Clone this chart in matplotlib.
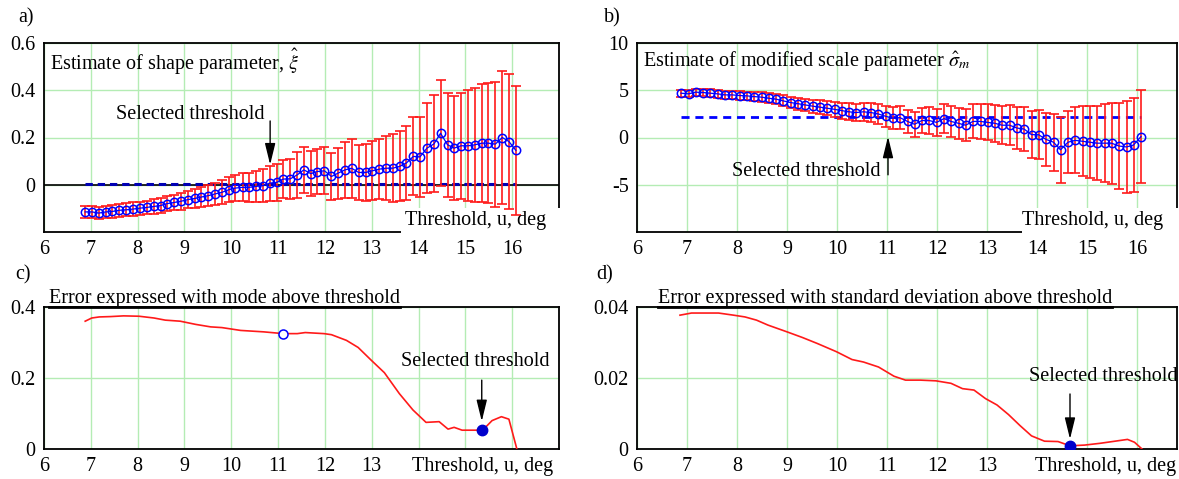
import matplotlib
matplotlib.use("Agg")
import matplotlib.pyplot as plt
from matplotlib.patches import Rectangle
from matplotlib.transforms import offset_copy

plt.rcParams["font.family"] = ["Liberation Serif", "DejaVu Serif"]
plt.rcParams["mathtext.fontset"] = "stix"
plt.rcParams["font.size"] = 14.5

RED = "#ff1a1a"
BLUE = "#0000ff"
DARKBLUE = "#0000b4"
GRID = "#b4ecb4"

# thresholds used for the parameter estimates (deg)
threshold = [6.88, 7.03, 7.17, 7.32, 7.46, 7.61, 7.76, 7.90, 8.05, 8.19,
             8.34, 8.49, 8.63, 8.78, 8.92, 9.07, 9.22, 9.36, 9.51, 9.65,
             9.80, 9.95, 10.09, 10.24, 10.38, 10.53, 10.68, 10.82, 10.97, 11.11,
             11.26, 11.41, 11.55, 11.70, 11.84, 11.99, 12.14, 12.28, 12.43, 12.57,
             12.72, 12.87, 13.01, 13.16, 13.30, 13.45, 13.60, 13.74, 13.89, 14.03,
             14.18, 14.33, 14.47, 14.62, 14.76, 14.91, 15.06, 15.20, 15.35, 15.49,
             15.64, 15.79, 15.93, 16.08]

# a) shape parameter estimate and its error bar half-width
xi_hat = [-0.115, -0.115, -0.120, -0.115, -0.113, -0.108, -0.106, -0.103, -0.099, -0.096,
          -0.092, -0.088, -0.080, -0.075, -0.070, -0.063, -0.058, -0.052, -0.046, -0.039,
          -0.032, -0.021, -0.014, -0.011, -0.011, -0.007, -0.004, 0.007, 0.010, 0.024,
          0.025, 0.042, 0.063, 0.047, 0.056, 0.059, 0.035, 0.049, 0.063, 0.070,
          0.052, 0.052, 0.059, 0.066, 0.070, 0.070, 0.078, 0.092, 0.120, 0.118,
          0.155, 0.173, 0.218, 0.169, 0.155, 0.165, 0.165, 0.169, 0.176, 0.176,
          0.172, 0.200, 0.183, 0.145]
xi_err = [0.026, 0.026, 0.026, 0.026, 0.027, 0.027, 0.027, 0.028, 0.028, 0.029,
          0.030, 0.031, 0.032, 0.033, 0.035, 0.037, 0.039, 0.041, 0.044, 0.047,
          0.050, 0.053, 0.056, 0.059, 0.062, 0.066, 0.070, 0.074, 0.078, 0.082,
          0.086, 0.097, 0.097, 0.095, 0.095, 0.100, 0.100, 0.108, 0.120, 0.125,
          0.118, 0.120, 0.125, 0.127, 0.135, 0.145, 0.148, 0.155, 0.165, 0.168,
          0.190, 0.205, 0.224, 0.220, 0.220, 0.225, 0.235, 0.240, 0.250, 0.255,
          0.265, 0.280, 0.285, 0.275]
xi_ref = 0.005

# b) modified scale parameter estimate and its error bar half-width
sigma_hat = [4.69, 4.62, 4.80, 4.76, 4.69, 4.62, 4.51, 4.51, 4.44, 4.41,
             4.33, 4.27, 4.16, 4.06, 3.88, 3.70, 3.58, 3.45, 3.32, 3.22,
             3.10, 2.98, 2.85, 2.72, 2.64, 2.72, 2.64, 2.50, 2.25, 2.05,
             2.10, 1.70, 1.40, 1.80, 1.80, 1.60, 2.00, 1.70, 1.50, 1.30,
             1.70, 1.70, 1.60, 1.50, 1.30, 1.30, 1.00, 0.90, 0.30, 0.30,
             -0.20, -0.50, -1.30, -0.50, -0.30, -0.40, -0.50, -0.60, -0.60, -0.60,
             -0.90, -1.00, -0.80, 0.10]
sigma_err = [0.38, 0.38, 0.38, 0.38, 0.40, 0.40, 0.42, 0.42, 0.45, 0.45,
             0.48, 0.50, 0.52, 0.55, 0.58, 0.60, 0.62, 0.65, 0.68, 0.70,
             0.75, 0.80, 0.85, 0.88, 0.90, 0.95, 1.00, 1.05, 1.10, 1.15,
             1.20, 1.25, 1.30, 1.35, 1.40, 1.45, 1.55, 1.60, 1.65, 1.70,
             1.80, 1.85, 1.90, 1.95, 2.00, 2.10, 2.20, 2.30, 2.50, 2.60,
             2.80, 3.00, 3.50, 3.30, 3.50, 3.70, 3.80, 3.90, 4.10, 4.30,
             4.50, 4.90, 5.00, 4.90]
sigma_ref = 2.15

# c) error expressed with mode above threshold
mode_u = [6.88, 7.02, 7.18, 7.42, 7.70, 8.03, 8.35, 8.59, 8.91, 9.24,
          9.56, 9.80, 10.20, 10.69, 11.11, 11.41, 11.58, 11.98, 12.14, 12.46,
          12.71, 12.99, 13.27, 13.59, 13.88, 14.16, 14.44, 14.63, 14.76, 14.93,
          15.13, 15.37, 15.57, 15.77, 15.93, 16.10]
mode_err = [0.360, 0.369, 0.372, 0.373, 0.375, 0.374, 0.369, 0.363, 0.360, 0.351,
            0.344, 0.342, 0.334, 0.330, 0.325, 0.325, 0.328, 0.325, 0.322, 0.306,
            0.286, 0.250, 0.215, 0.156, 0.110, 0.075, 0.077, 0.056, 0.061, 0.053,
            0.053, 0.053, 0.080, 0.091, 0.084, 0.0]
mode_open = (11.11, 0.325)
mode_sel = (15.35, 0.053)

# d) error expressed with standard deviation above threshold
std_u = [6.86, 7.09, 7.32, 7.63, 7.93, 8.16, 8.39, 8.62, 9.00, 9.31,
         9.61, 9.99, 10.30, 10.53, 10.83, 11.14, 11.37, 11.67, 11.98, 12.28,
         12.51, 12.74, 12.97, 13.20, 13.43, 13.66, 13.89, 14.15, 14.42, 14.66,
         14.95, 15.26, 15.56, 15.81, 15.95, 16.10]
std_err = [0.0377, 0.0383, 0.0383, 0.0383, 0.0377, 0.0372, 0.0363, 0.0349, 0.0330, 0.0314,
           0.0297, 0.0274, 0.0252, 0.0245, 0.0231, 0.0205, 0.0194, 0.0194, 0.0192, 0.0185,
           0.0170, 0.0166, 0.0142, 0.0124, 0.0097, 0.0066, 0.0037, 0.0022, 0.0021, 0.0009,
           0.0011, 0.0016, 0.0022, 0.0027, 0.0019, 0.0]
std_sel = (14.66, 0.0009)

W, H = 1179, 479
fig = plt.figure(figsize=(W / 100, H / 100), dpi=100)


def px_axes(l, t, r, b):
    return fig.add_axes([l / W, 1 - b / H, (r - l) / W, (b - t) / H])


def style(ax, xlim, ylim, yticks, ylabels, last_xlabel):
    ax.set_xlim(*xlim)
    ax.set_ylim(*ylim)
    ax.set_xticks(range(6, 17))
    ax.set_xticklabels([str(v) if v <= last_xlabel else "" for v in range(6, 17)])
    ax.set_yticks(yticks)
    ax.set_yticklabels(ylabels)
    ax.tick_params(length=0, pad=6)
    ax.grid(True, color=GRID, lw=1)
    ax.set_axisbelow(True)
    for s in ax.spines.values():
        s.set_linewidth(1.3)


def arrow(ax, x, y_from, y_to):
    ax.annotate("", xy=(x, y_to), xytext=(x, y_from),
                arrowprops=dict(arrowstyle="-|>,head_length=0.9,head_width=0.22",
                                color="k", lw=1.0, shrinkA=0, shrinkB=0))


def corner_label(ax, box_left):
    ax.add_patch(Rectangle((box_left, -0.01), 1.01 - box_left, 0.137, transform=ax.transAxes,
                           facecolor="white", edgecolor="none", zorder=2.6, clip_on=False))
    ax.text(0.975, 0.063, "Threshold, u, deg", transform=ax.transAxes,
            ha="right", va="center", zorder=5)


def under_title(ax, text, x0):
    tr = offset_copy(ax.transAxes, fig=fig, y=4, units="dots")
    t = ax.text(x0, 1.0, text, transform=tr, ha="left", va="baseline")
    fig.canvas.draw()
    bb = t.get_window_extent().transformed(ax.transAxes.inverted())
    ax.plot([x0, bb.x1], [1.0, 1.0], transform=ax.transAxes, color="k",
            lw=2.0, clip_on=False, zorder=6)


# a)
ax = px_axes(44, 43, 559, 232)
style(ax, (6, 17), (-0.2, 0.6), [0, 0.2, 0.4, 0.6], ["0", "0.2", "0.4", "0.6"], 16)
ax.axhline(0, color="k", lw=1.2, zorder=2)
ax.plot([threshold[0], threshold[-1]], [xi_ref, xi_ref], color=DARKBLUE, lw=2.2,
        dashes=(2.4, 1.6), zorder=2.2)
ax.errorbar(threshold, xi_hat, yerr=xi_err, fmt="none", ecolor=RED, elinewidth=1.2,
            capsize=3.5, capthick=1.2, zorder=3)
ax.plot(threshold, xi_hat, "-o", color=BLUE, lw=0.9, mfc="none", mec=BLUE, ms=6, mew=1.1, zorder=4)
ax.text(0.012, 0.9, r"Estimate of shape parameter, $\hat{\xi}$", transform=ax.transAxes,
        ha="left", va="center")
ax.text(10.72, 0.296, "Selected threshold", ha="right", va="center")
arrow(ax, 10.83, 0.27, 0.085)
corner_label(ax, 0.693)
fig.text(18 / W, 1 - 18 / H, "a)", ha="left", va="center")

# b)
ax = px_axes(637, 43, 1177, 232)
style(ax, (6, 16.8), (-10, 10), [-5, 0, 5, 10], ["-5", "0", "5", "10"], 16)
ax.plot([threshold[0], threshold[-1]], [sigma_ref, sigma_ref], color=BLUE, lw=2.0,
        dashes=(2.9, 2.1), zorder=2.2)
ax.errorbar(threshold, sigma_hat, yerr=sigma_err, fmt="none", ecolor=RED, elinewidth=1.2,
            capsize=3.5, capthick=1.2, zorder=3)
ax.plot(threshold, sigma_hat, "-o", color=BLUE, lw=0.9, mfc="none", mec=BLUE, ms=6, mew=1.1, zorder=4)
ax.text(0.012, 0.9, r"Estimate of modified scale parameter $\hat{\sigma}_m$",
        transform=ax.transAxes, ha="left", va="center")
ax.text(10.86, -3.6, "Selected threshold", ha="right", va="center")
arrow(ax, 11.02, -3.95, 0.1)
corner_label(ax, 0.713)
fig.text(604 / W, 1 - 18 / H, "b)", ha="left", va="center")

# c)
ax = px_axes(44, 307, 559, 449)
style(ax, (6, 17), (0, 0.4), [0, 0.2, 0.4], ["0", "0.2", "0.4"], 13)
ax.plot(mode_u, mode_err, color=RED, lw=1.2, zorder=3)
ax.plot(*mode_open, "o", mfc="white", mec=BLUE, ms=6.5, mew=1.1, zorder=4)
ax.plot(*mode_sel, "o", color="#0000cc", ms=7.5, zorder=4)
ax.text(15.22, 0.247, "Selected threshold", ha="center", va="center")
arrow(ax, mode_sel[0], 0.194, 0.078)
ax.text(0.988, -0.125, "Threshold, u, deg", transform=ax.transAxes, ha="right", va="center")
under_title(ax, "Error expressed with mode above threshold", 0.01)
fig.text(15 / W, 1 - 275 / H, "c)", ha="left", va="center")

# d)
ax = px_axes(637, 307, 1177, 449)
style(ax, (6, 16.8), (0, 0.04), [0, 0.02, 0.04], ["0", "0.02", "0.04"], 13)
ax.plot(std_u, std_err, color=RED, lw=1.2, zorder=3)
ax.plot(*std_sel, "o", color="#0000cc", ms=7.5, zorder=4)
ax.text(15.32, 0.0205, "Selected threshold", ha="center", va="center")
arrow(ax, std_sel[0], 0.0155, 0.0028)
ax.text(0.998, -0.125, "Threshold, u, deg", transform=ax.transAxes, ha="right", va="center")
under_title(ax, "Error expressed with standard deviation above threshold", 0.038)
fig.text(596 / W, 1 - 275 / H, "d)", ha="left", va="center")

fig.savefig("out.png", dpi=100)
